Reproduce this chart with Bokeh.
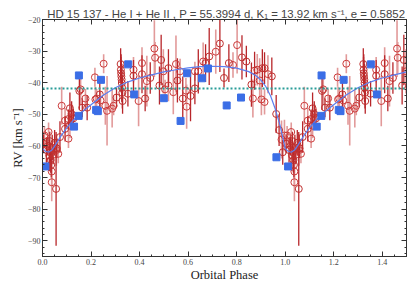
import numpy as np
from bokeh.plotting import figure
from bokeh.models import ColumnDataSource, Span, LinearAxis, FixedTicker, Range1d
from bokeh.embed import file_html
from bokeh.resources import INLINE

# ---------------- data (phase 0-1; phases < 0.5 repeat at +1) ----------------
dark_phase = [0.004, 0.016, 0.022, 0.028, 0.030, 0.032, 0.034, 0.036, 0.040, 0.044,
              0.050, 0.056, 0.059, 0.072, 0.093, 0.107, 0.113, 0.120, 0.127, 0.152,
              0.164, 0.184, 0.236, 0.305, 0.322, 0.323, 0.324, 0.325, 0.326, 0.327,
              0.328, 0.329, 0.330, 0.352, 0.375, 0.410, 0.423, 0.444, 0.482, 0.489,
              0.519, 0.556, 0.578, 0.610, 0.628, 0.642, 0.672, 0.687, 0.731, 0.748,
              0.768, 0.822, 0.840, 0.861, 0.874, 0.906, 0.915, 0.945, 0.963, 0.975, 0.990]
dark_rv = [-59.3, -61.3, -60.0, -63.0, -58.5, -62.0, -64.5, -66.0, -60.5, -62.8,
           -59.0, -73.6, -60.8, -57.2, -54.6, -51.5, -48.1, -49.9, -51.3, -42.6,
           -47.9, -47.9, -43.7, -44.7, -34.1, -35.9, -37.0, -38.0, -39.0, -40.1,
           -41.6, -43.2, -45.8, -43.5, -37.8, -37.3, -45.0, -38.5, -40.9, -32.8,
           -35.4, -39.3, -45.0, -44.2, -41.8, -36.4, -33.8, -31.7, -27.6, -38.5,
           -33.8, -32.0, -33.3, -40.6, -36.2, -35.4, -35.4, -38.0, -49.9, -55.0, -62.0]
dark_err = [3, 4, 3, 5, 3, 3, 4, 4, 4, 3,
            4, 18, 3, 5, 4, 3, 5, 4, 3, 6,
            3, 4, 5, 3, 5, 4, 6, 5, 4, 6,
            4, 5, 4, 4, 5, 6, 4, 5, 6, 8,
            6, 7, 7, 8, 5, 7, 6, 9, 9, 3,
            6, 7, 5, 7, 6, 6, 5, 6, 6, 5, 4]

light_phase = [0.008, 0.025, 0.038, 0.038, 0.057, 0.065, 0.079, 0.093, 0.107, 0.113,
               0.123, 0.157, 0.177, 0.216, 0.218, 0.223, 0.239, 0.252, 0.259, 0.266,
               0.287, 0.293, 0.375, 0.396, 0.410, 0.430, 0.461, 0.464, 0.498, 0.505,
               0.519, 0.539, 0.550, 0.567, 0.591, 0.594, 0.628, 0.662, 0.714, 0.785,
               0.802, 0.867, 0.885, 0.895, 0.902, 0.915, 0.929, 0.985, 0.997]
light_rv = [-56.7, -55.6, -68.1, -71.5, -61.3, -62.5, -47.3, -52.0, -57.7, -53.6,
            -51.0, -42.1, -45.0, -38.3, -45.3, -45.0, -45.6, -34.0, -47.3, -48.9,
            -48.2, -47.3, -35.9, -45.8, -33.8, -39.5, -29.2, -32.1, -36.4, -42.1,
            -40.9, -43.0, -34.1, -36.4, -42.5, -47.6, -36.4, -33.3, -30.2, -34.4,
            -28.1, -45.0, -35.9, -39.3, -45.3, -46.1, -37.3, -58.0, -56.7]
light_err = [3, 3, 5, 6, 5, 3, 6, 4, 3, 4,
             4, 5, 3, 3, 4, 3, 3, 3, 6, 11,
             6, 3, 4, 8, 5, 8, 9, 5, 7, 3,
             5, 7, 9, 4, 4, 7, 3, 6, 7, 4,
             9, 6, 5, 7, 5, 4, 6, 6, 5]

sq_phase = [0.012, 0.130, 0.149, 0.150, 0.221, 0.228, 0.241, 0.353, 0.378, 0.500,
            0.569, 0.596, 0.657, 0.682, 0.759, 0.818, 0.964]
sq_rv = [-66.5, -53.9, -50.5, -37.7, -48.6, -49.0, -39.1, -34.2, -43.7, -44.9,
         -52.1, -37.0, -38.6, -35.5, -47.2, -44.7, -63.6]

fit_phase = [0.000, 0.010, 0.025, 0.040, 0.055, 0.075, 0.100, 0.130, 0.160, 0.200,
             0.250, 0.300, 0.350, 0.400, 0.450, 0.500, 0.550, 0.600, 0.650, 0.700,
             0.750, 0.800, 0.850, 0.880, 0.900, 0.920, 0.940, 0.960, 0.980, 1.000]
fit_rv = [-60.8, -61.6, -62.0, -61.2, -59.5, -57.0, -54.3, -51.6, -49.4, -47.0,
          -44.0, -41.6, -39.8, -38.5, -37.5, -36.6, -35.9, -35.3, -34.9, -34.8,
          -34.9, -35.4, -36.5, -37.8, -39.2, -41.2, -44.2, -48.5, -53.8, -60.8]

gamma = -41.8
x_ticks = [0.0, 0.2, 0.4, 0.6, 0.8, 1.0, 1.2, 1.4]
x_tick_labels = ["0.0", "0.2", "0.4", "0.6", "0.8", "1.0", "1.2", "1.4"]
y_ticks = [-90, -80, -70, -60, -50, -40, -30, -20]
title_text = "HD 15 137 - He I + He II ,  P = 55.3994 d, K\u2081 = 13.92 km s\u207b\u00b9,  e = 0.5852"


def extend(ph, *cols):
    ph = np.asarray(ph, float)
    m = ph < 0.5
    out = [np.concatenate([ph, ph[m] + 1.0])]
    for c in cols:
        c = np.asarray(c, float)
        out.append(np.concatenate([c, c[m]]))
    return out


dp, dv, de = extend(dark_phase, dark_rv, dark_err)
lp, lv, le = extend(light_phase, light_rv, light_err)
sp, sv = extend(sq_phase, sq_rv)
fp = np.asarray(fit_phase, float)
fv = np.asarray(fit_rv, float)
fm = fp < 0.5 + 1e-9
fpx = np.concatenate([fp, fp[1:][fm[1:]] + 1.0])
fvx = np.concatenate([fv, fv[1:][fm[1:]]])

dark_src = ColumnDataSource(dict(x=dp, y=dv, lo=dv - de, hi=dv + de))
light_src = ColumnDataSource(dict(x=lp, y=lv, lo=lv - le, hi=lv + le))

SERIF = "Liberation Serif"

p = figure(width=415, height=288, output_backend="svg", toolbar_location=None,
           x_range=Range1d(0, 1.5), y_range=Range1d(-95, -20),
           min_border_left=46, min_border_right=5, min_border_top=23, min_border_bottom=18,
           margin=(-4, -4, -4, -4))
p.title.text = title_text
p.title.text_font = "Liberation Sans"
p.title.text_font_size = "11.4px"
p.title.text_font_style = "normal"
p.title.align = "right"
p.title.standoff = 0
p.title.offset = -5

p.grid.visible = False
p.outline_line_color = "#333333"
p.background_fill_color = "white"
p.border_fill_color = "white"

bottom = p.below[0]
left = p.left[0]

# error bars
p.segment(x0="x", y0="lo", x1="x", y1="hi", source=light_src, line_color="#e29a9a", line_width=1.6)
p.segment(x0="x", y0="lo", x1="x", y1="hi", source=dark_src, line_color="#b8262a", line_width=1.3)
# circles
p.scatter("x", "y", source=light_src, marker="circle", size=7, fill_color=None,
          line_color="#cc3a3a", line_width=1)
p.scatter("x", "y", source=dark_src, marker="circle", size=7, fill_color=None,
          line_color="#c0302f", line_width=1)
# fit curve
p.line(fpx, fvx, line_color="#5b7ff0", line_width=1.2)
# gamma line
p.add_layout(Span(location=gamma, dimension="width", line_color="#2a9d98",
                  line_width=2, line_dash="2 2"))
# squares
p.scatter(sp, sv, marker="square", size=7, fill_color="#3b6ee6", line_color="#3b6ee6")

x_minor = [round(0.05 * i, 2) for i in range(31)]
y_minor = list(range(-94, -19, 2))

bottom.ticker = FixedTicker(ticks=x_ticks, minor_ticks=x_minor)
bottom.major_label_overrides = dict(zip(x_ticks, x_tick_labels))
left.ticker = FixedTicker(ticks=y_ticks, minor_ticks=y_minor)
left.major_label_overrides = {t: "\u2212%d" % abs(t) for t in y_ticks}

top = LinearAxis(ticker=FixedTicker(ticks=x_ticks, minor_ticks=x_minor),
                 major_label_overrides={t: "" for t in x_ticks}, major_label_standoff=0)
right = LinearAxis(ticker=FixedTicker(ticks=y_ticks, minor_ticks=y_minor),
                   major_label_overrides={t: "" for t in y_ticks}, major_label_standoff=0)
p.add_layout(top, "above")
p.add_layout(right, "right")

for ax in [bottom, left, top, right]:
    ax.major_tick_in = 5
    ax.major_tick_out = 0
    ax.minor_tick_in = 2
    ax.minor_tick_out = 0
    ax.axis_line_color = "#333333"
    ax.major_tick_line_color = "#333333"
    ax.minor_tick_line_color = "#333333"
    ax.major_label_text_font = SERIF
    ax.major_label_text_color = "#444444"
    ax.major_label_text_font_size = "8px"

for ax in [bottom, left]:
    ax.major_label_standoff = 2
    ax.axis_label_text_font = SERIF
    ax.axis_label_text_font_style = "normal"
    ax.axis_label_text_font_size = "12.5px"
    ax.axis_label_text_color = "#222222"
    ax.axis_label_standoff = 0

bottom.axis_label = "Orbital Phase"
left.axis_label = "RV [km s\u207b\u00b9]"

open("out.html", "w").write(file_html(p, INLINE))
